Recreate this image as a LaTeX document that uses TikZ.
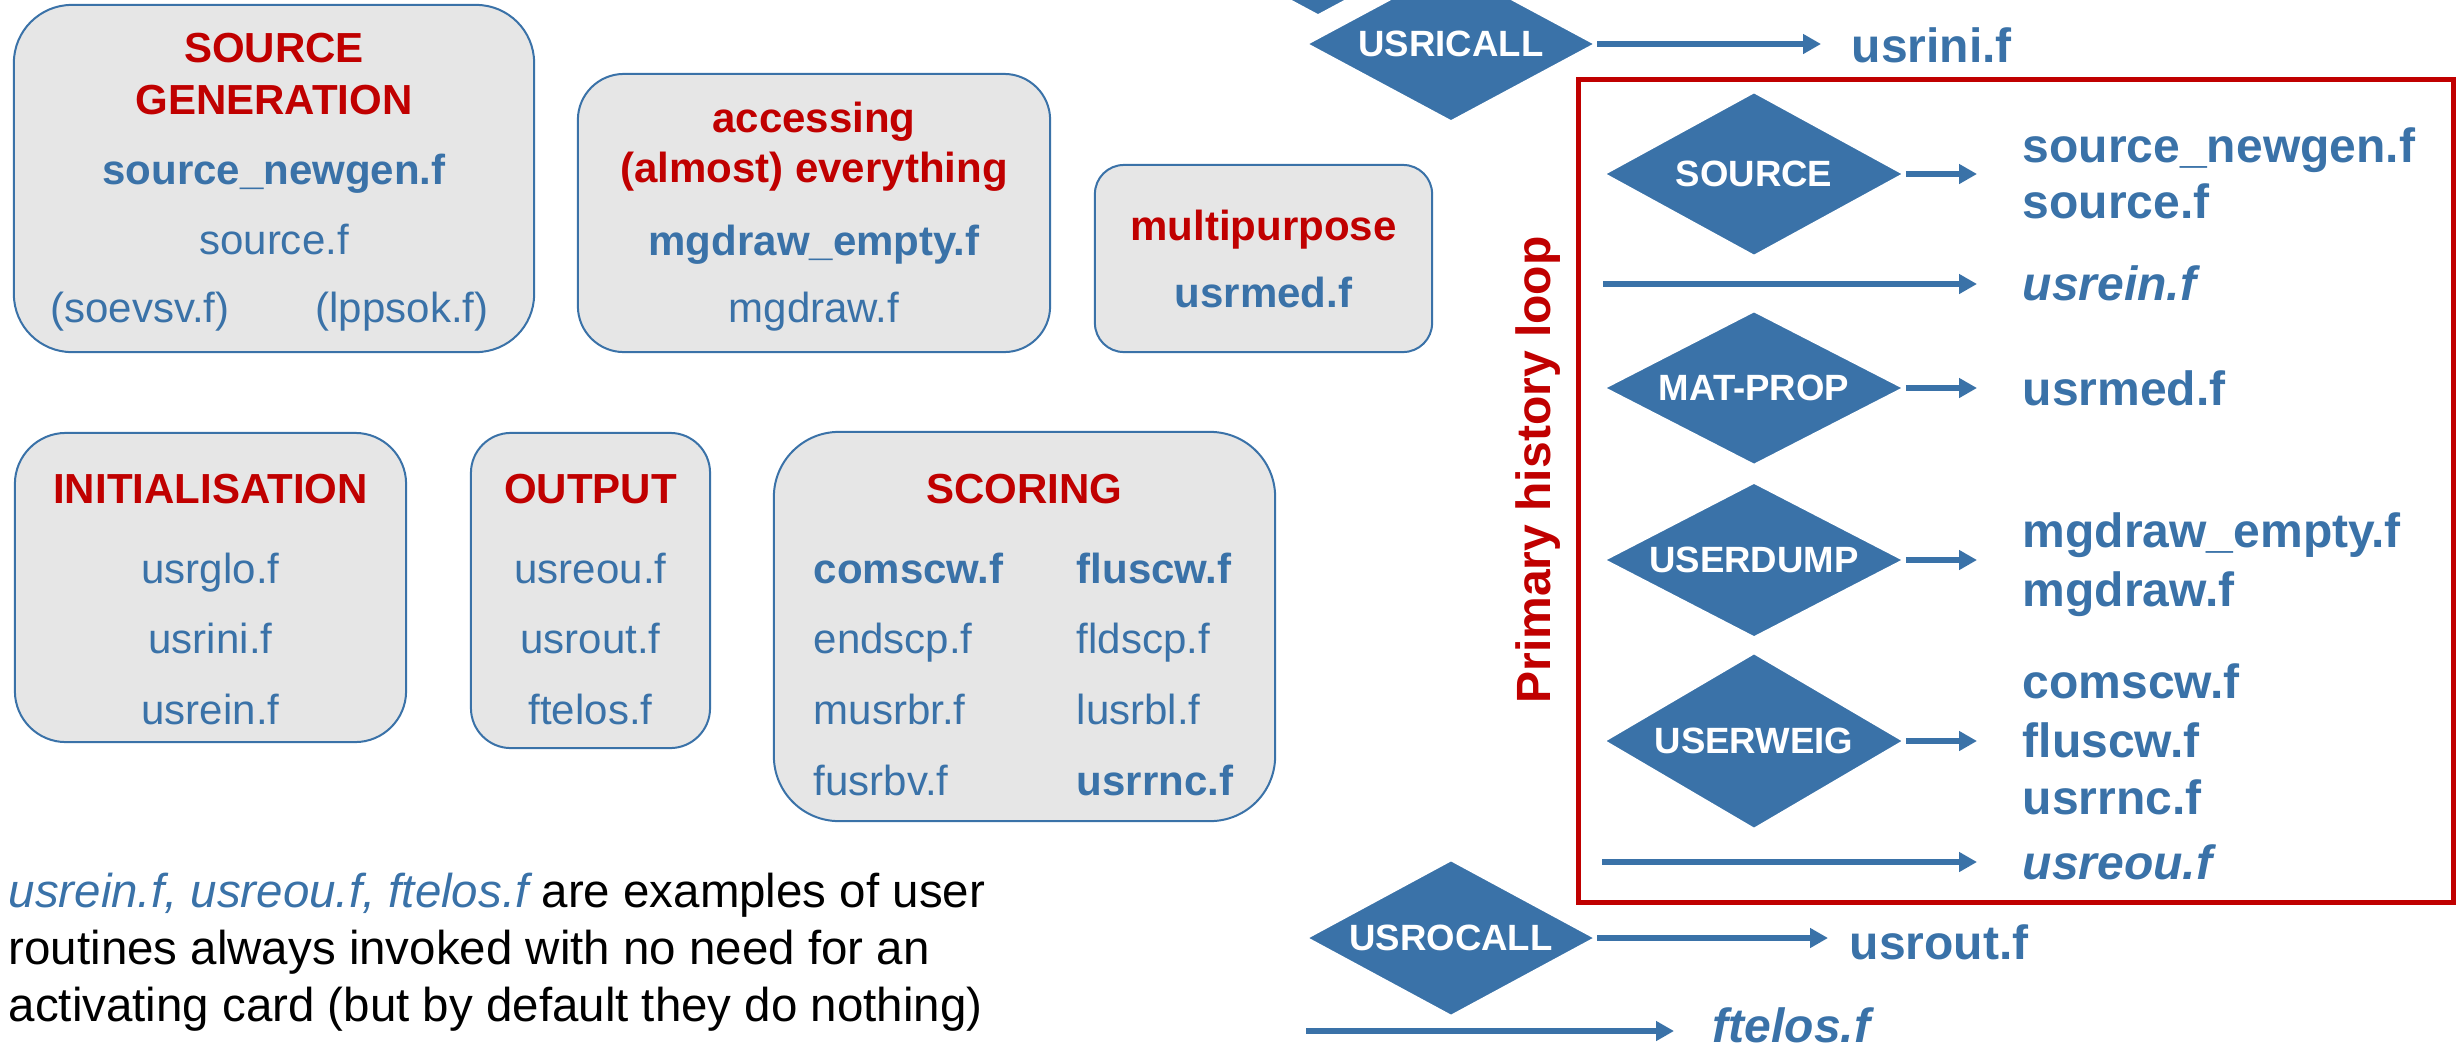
\documentclass[tikz,border=0pt]{standalone}
\usepackage{fontspec}
\setmainfont{Liberation Sans}
\usetikzlibrary{shapes.geometric,arrows.meta}
\definecolor{fblue}{RGB}{58,114,168}
\definecolor{fred}{RGB}{192,0,0}
\definecolor{fgrey}{RGB}{230,230,230}
\newcommand\boxfnt{\fontsize{11.95pt}{14pt}\selectfont}
\newcommand\rightfnt{\fontsize{13.66pt}{16pt}\selectfont}
\newcommand\diafnt{\fontsize{10.4pt}{12pt}\selectfont}
\newcommand\notefnt{\fontsize{13.5pt}{16pt}\selectfont}
\begin{document}
\begin{tikzpicture}[x=0.01cm,y=-0.01cm,
  box/.style={draw=fblue, line width=0.02cm, fill=fgrey, inner sep=0pt, rounded corners=#1},
  ttl/.style={inner sep=0pt, anchor=base, font=\boxfnt\bfseries, text=fred},
  bt/.style={inner sep=0pt, anchor=base, font=\boxfnt, text=fblue},
  btl/.style={inner sep=0pt, anchor=base west, font=\boxfnt, text=fblue},
  rt/.style={inner sep=0pt, anchor=base west, font=\rightfnt\bfseries, text=fblue},
  dia/.style={diamond, aspect=1.9, fill=fblue, draw=white, line width=0.025cm, inner sep=0pt,
              text=white, font=\diafnt\bfseries},
  arr/.style={draw=fblue, line width=0.06cm, -{Triangle[length=0.18cm,width=0.19cm]}},
  note/.style={inner sep=0pt, anchor=base west, font=\notefnt, text=black}
]
\useasboundingbox (0,0) rectangle (2458,1048);

% ---------- left boxes ----------
\node[box=0.58cm, minimum width=5.20cm, minimum height=3.47cm] (b1) at (274,178.5) {};
\node[ttl] (b1t1) at (274,62) {SOURCE};
\node[ttl] (b1t2) at (274,114) {GENERATION};
\node[bt, font=\boxfnt\bfseries] (b1a) at (274,184) {source\_newgen.f};
\node[bt] (b1b) at (274,254) {source.f};
\node[bt] (b1c) at (140,322) {(soevsv.f)};
\node[bt] (b1d) at (402,322) {(lppsok.f)};

\node[box=0.46cm, minimum width=4.72cm, minimum height=2.78cm] (b2) at (814,213) {};
\node[ttl] (b2t1) at (814,132) {accessing};
\node[ttl] (b2t2) at (814,182) {(almost) everything};
\node[bt, font=\boxfnt\bfseries] (b2a) at (814,255) {mgdraw\_empty.f};
\node[bt] (b2b) at (814,322) {mgdraw.f};

\node[box=0.29cm, minimum width=3.37cm, minimum height=1.87cm] (b3) at (1263.5,258.5) {};
\node[ttl] (b3t) at (1263.5,240) {multipurpose};
\node[bt, font=\boxfnt\bfseries] (b3a) at (1263.5,307) {usrmed.f};

\node[box=0.51cm, minimum width=3.91cm, minimum height=3.09cm] (b4) at (210.5,587.5) {};
\node[ttl] (b4t) at (210.5,503) {INITIALISATION};
\node[bt] (b4a) at (210.5,583) {usrglo.f};
\node[bt] (b4b) at (210.5,653) {usrini.f};
\node[bt] (b4c) at (210.5,724) {usrein.f};

\node[box=0.40cm, minimum width=2.39cm, minimum height=3.15cm] (b5) at (590.5,590.5) {};
\node[ttl] (b5t) at (590.5,503) {OUTPUT};
\node[bt] (b5a) at (590.5,583) {usreou.f};
\node[bt] (b5b) at (590.5,653) {usrout.f};
\node[bt] (b5c) at (590.5,724) {ftelos.f};

\node[box=0.65cm, minimum width=5.01cm, minimum height=3.89cm] (b6) at (1024.5,626.5) {};
\node[ttl] (b6t) at (1024.5,503) {SCORING};
\node[btl, font=\boxfnt\bfseries] (b6a) at (813,583) {comscw.f};
\node[btl] (b6b) at (813,653) {endscp.f};
\node[btl] (b6c) at (813,724) {musrbr.f};
\node[btl] (b6d) at (813,795) {fusrbv.f};
\node[btl, font=\boxfnt\bfseries] (b6e) at (1076,583) {fluscw.f};
\node[btl] (b6f) at (1076,653) {fldscp.f};
\node[btl] (b6g) at (1076,724) {lusrbl.f};
\node[btl, font=\boxfnt\bfseries] (b6h) at (1076,795) {usrrnc.f};

% ---------- note ----------
\node[note] (n1) at (8,907) {{\color{fblue}\itshape usrein.f, usreou.f, ftelos.f} are examples of user};
\node[note] (n2) at (8,964) {routines always invoked with no need for an};
\node[note] (n3) at (8,1021) {activating card (but by default they do nothing)};

% ---------- right flow ----------
\begin{scope}
\clip (0,0) rectangle (2458,1048);
\node[dia, minimum width=2.90cm, minimum height=1.56cm] (d0) at (1318,-62) {};
\end{scope}
\node[dia, minimum width=2.90cm, minimum height=1.56cm] (d1) at (1451,44) {USRICALL};

\draw[fred, line width=0.05cm] (1578,79) rectangle (2453,902);
\node[rotate=90, anchor=base, inner sep=0pt, font=\rightfnt\bfseries, text=fred] (loop) at (1550,470) {Primary history loop};

\node[dia, minimum width=3.01cm, minimum height=1.65cm] (d2) at (1754,174) {SOURCE};
\node[dia, minimum width=3.01cm, minimum height=1.55cm] (d3) at (1754,388) {MAT-PROP};
\node[dia, minimum width=3.01cm, minimum height=1.56cm] (d4) at (1754,560) {USERDUMP};
\node[dia, minimum width=3.01cm, minimum height=1.77cm] (d5) at (1754,741) {USERWEIG};
\node[dia, minimum width=2.90cm, minimum height=1.57cm] (d6) at (1451,938) {USROCALL};

\node[rt] (r1) at (1851,62) {usrini.f};
\node[rt] (r2) at (2022,162) {source\_newgen.f};
\node[rt] (r3) at (2022,218) {source.f};
\node[rt, font=\rightfnt\bfseries\itshape] (r4) at (2022,300) {usrein.f};
\node[rt] (r5) at (2022,405) {usrmed.f};
\node[rt] (r6) at (2022,547) {mgdraw\_empty.f};
\node[rt] (r7) at (2022,606) {mgdraw.f};
\node[rt] (r8) at (2022,698) {comscw.f};
\node[rt] (r9) at (2022,757) {fluscw.f};
\node[rt] (r10) at (2022,814) {usrrnc.f};
\node[rt, font=\rightfnt\bfseries\itshape] (r11) at (2022,879) {usreou.f};
\node[rt] (r12) at (1849,959) {usrout.f};
\node[rt, font=\rightfnt\bfseries\itshape] (r13) at (1712,1042) {ftelos.f};

\coordinate (e1) at (1821,44);
\coordinate (e2) at (1977,174);
\coordinate (s3) at (1603,284);
\coordinate (e3) at (1977,284);
\coordinate (e4) at (1977,388);
\coordinate (e5) at (1977,560);
\coordinate (e6) at (1977,741);
\coordinate (s7) at (1602,862);
\coordinate (e7) at (1977,862);
\coordinate (e8) at (1828,938);
\coordinate (s9) at (1306,1031);
\coordinate (e9) at (1674,1031);

\draw[arr] (d1.east) -- (e1);
\draw[arr] (d2.east) -- (e2);
\draw[arr] (s3) -- (e3);
\draw[arr] (d3.east) -- (e4);
\draw[arr] (d4.east) -- (e5);
\draw[arr] (d5.east) -- (e6);
\draw[arr] (s7) -- (e7);
\draw[arr] (d6.east) -- (e8);
\draw[arr] (s9) -- (e9);
\end{tikzpicture}
\end{document}
